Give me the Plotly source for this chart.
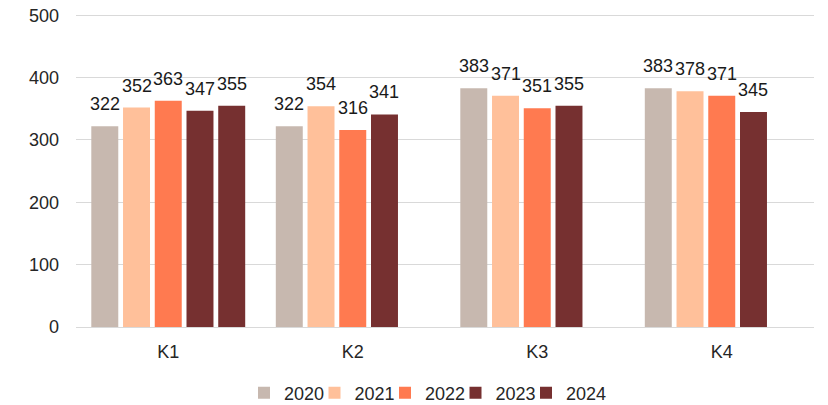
import plotly.graph_objects as go

categories = ["K1", "K2", "K3", "K4"]
years = ["2020", "2021", "2022", "2023", "2024"]
v2020 = [322, 322, 383, 383]
v2021 = [352, 354, 371, 378]
v2022 = [363, 316, 351, 371]
v2023 = [347, 341, 355, 345]
v2024 = [355, None, None, None]
series = [v2020, v2021, v2022, v2023, v2024]
colors = ["#C7B8AF", "#FFC09A", "#FF7A50", "#763030", "#763030"]

BARGAP = 0.14
W, H = 820, 397
fig = go.Figure()
annotations = []
legends = {}
n = len(series)
for j, (name, vals, col) in enumerate(zip(years, series, colors)):
    lg = "legend" if j == 0 else f"legend{j + 1}"
    fig.add_trace(go.Bar(
        x=categories, y=vals, name=name, legend=lg,
        marker=dict(color=col, line=dict(width=0)),
    ))
    legends[lg] = dict(orientation="h", xref="container", x=(236 + j * 70.5) / W,
                       xanchor="left", yref="container", y=12 / H, yanchor="middle",
                       font=dict(size=18), itemwidth=30, bgcolor="rgba(0,0,0,0)")
    slot = (1 - BARGAP) / n
    for i, v in enumerate(vals):
        if v is None:
            continue
        annotations.append(dict(
            x=i + (j - (n - 1) / 2) * slot, y=v, xref="x", yref="y",
            text=str(v), showarrow=False, yanchor="bottom", xanchor="center",
            yshift=10, font=dict(size=18, color="#1a1a1a"),
        ))

fig.update_layout(
    width=W, height=H,
    margin=dict(l=68, r=14, t=6, b=78, autoexpand=False),
    paper_bgcolor="white", plot_bgcolor="white",
    font=dict(family="Liberation Sans, Arial, sans-serif", size=18, color="#262626"),
    barmode="group", bargap=BARGAP, bargroupgap=0.15,
    showlegend=True,
    annotations=annotations,
    **legends,
)
fig.update_xaxes(showgrid=False, showline=False, ticks="", ticklabelstandoff=12,
                 automargin=False)
fig.update_yaxes(range=[0, 502], tickvals=[0, 100, 200, 300, 400, 500], showgrid=True,
                 gridcolor="#D9D9D9", gridwidth=1.3, zeroline=True,
                 zerolinecolor="#D9D9D9", zerolinewidth=1.3, ticks="",
                 ticklabelstandoff=16, automargin=False, ticklabeloverflow="allow")

fig.write_html("out.html")
